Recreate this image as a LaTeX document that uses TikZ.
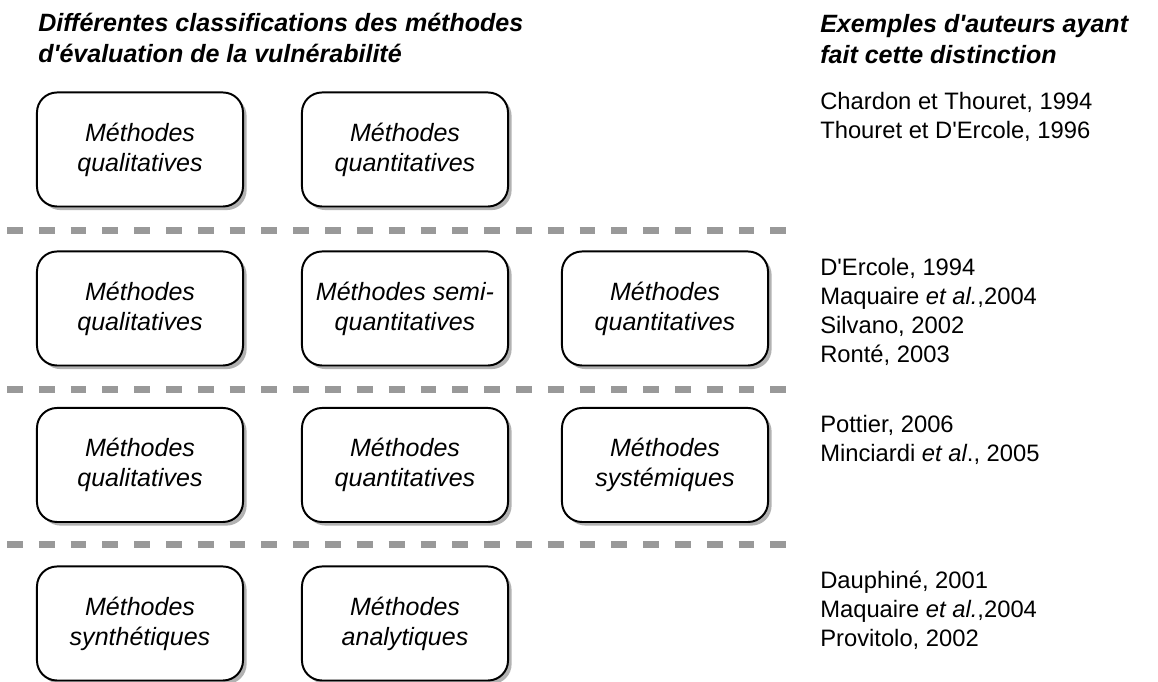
\documentclass[tikz,border=0pt]{standalone}
\usepackage{fontspec}
\setmainfont{Liberation Sans}[Ligatures=TeXOff]
\usetikzlibrary{shadows}

\begin{document}
\begin{tikzpicture}[x=0.025cm,y=0.025cm,
  meth/.style={rectangle,rounded corners=0.5cm,draw,line width=1.4pt,fill=white,
    minimum width=5.15cm,minimum height=2.85cm,align=center,inner sep=0pt,
    font=\fontsize{17.8}{21.3}\selectfont\itshape,
    drop shadow={shadow xshift=0.09cm,shadow yshift=-0.09cm,opacity=1,fill=black!30}},
  head/.style={anchor=north west,inner sep=0pt,align=left,font=\fontsize{17.8}{22}\selectfont\bfseries\itshape},
  auth/.style={anchor=north west,inner sep=0pt,align=left,font=\fontsize{16.9}{20.4}\selectfont},
  sep/.style={line width=0.175cm,color=black!40,dash pattern=on 0.395cm off 0.4cm}]
\def\rOne{532.5}
\def\rTwo{373.5}
\def\rThree{217}
\def\rFour{58.5}
\useasboundingbox (0,0) rectangle (1158,682);
  % titres
\node[head] (tclass) at (38,669) {Différentes classifications des méthodes\\d'évaluation de la vulnérabilité};
\node[head] (tauth) at (820,668) {Exemples d'auteurs ayant\\fait cette distinction};
  % lignes de separation
\draw[sep] (7,451) -- (792,451);
\draw[sep] (7,292) -- (792,292);
\draw[sep] (7,137) -- (792,137);
  % classification 1
\node[meth] (qualA) at (140,\rOne) {Méthodes\\qualitatives};
\node[meth] (quantA) at (405,\rOne) {Méthodes\\quantitatives};
\node[auth] (authA) at (820,589.5) {Chardon et Thouret, 1994\\Thouret et D'Ercole, 1996};
  % classification 2
\node[meth] (qualB) at (140,\rTwo) {Méthodes\\qualitatives};
\node[meth] (semiB) at (405,\rTwo) {Méthodes semi-\\quantitatives};
\node[meth] (quantB) at (665,\rTwo) {Méthodes\\quantitatives};
\node[auth] (authB) at (820,423.5) {D'Ercole, 1994\\Maquaire \textit{et al.},2004\\Silvano, 2002\\Ronté, 2003};
  % classification 3
\node[meth] (qualC) at (140,\rThree) {Méthodes\\qualitatives};
\node[meth] (quantC) at (405,\rThree) {Méthodes\\quantitatives};
\node[meth] (systC) at (665,\rThree) {Méthodes\\systémiques};
\node[auth] (authC) at (820,266.5) {Pottier, 2006\\Minciardi \textit{et al}., 2005};
  % classification 4
\node[meth] (synthD) at (140,\rFour) {Méthodes\\synthétiques};
\node[meth] (analD) at (405,\rFour) {Méthodes\\analytiques};
\node[auth] (authD) at (820,111) {Dauphiné, 2001\\Maquaire \textit{et al.},2004\\Provitolo, 2002};
\end{tikzpicture}
\end{document}
